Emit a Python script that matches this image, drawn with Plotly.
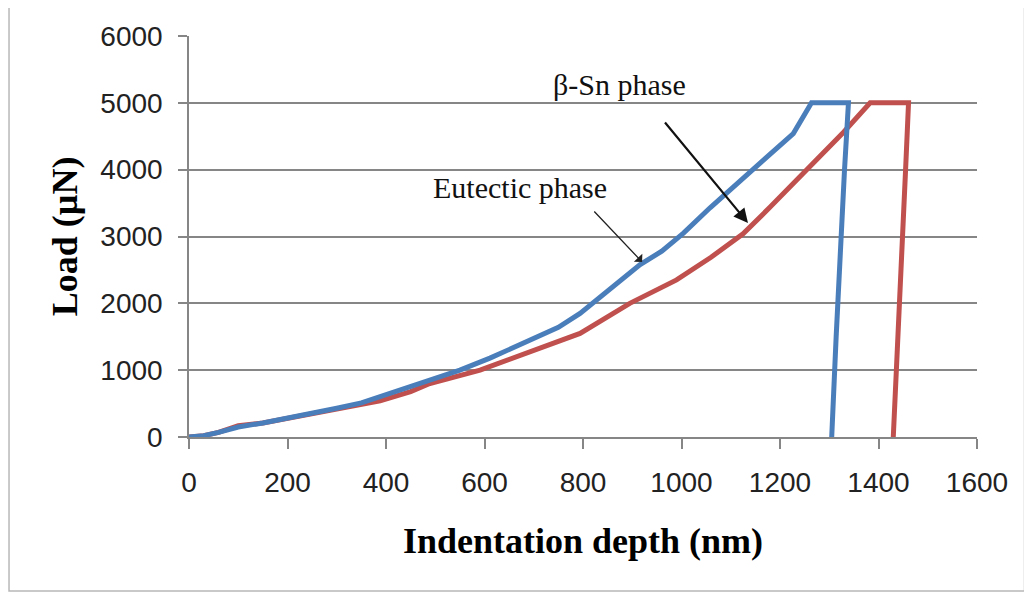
import plotly.graph_objects as go

# indentation depth (nm) and load (uN)
depth_eutectic = [0, 30, 60, 100, 150, 200, 250, 300, 350, 388, 450, 489, 550, 611, 692, 750, 794, 821,
                  875, 916, 960, 1004, 1058, 1146, 1227, 1264, 1339, 1331, 1322, 1314, 1305]
load_eutectic = [0, 20, 70, 150, 210, 280, 360, 430, 510, 600, 750, 850, 1000, 1180, 1450, 1640, 1850, 2010,
                 2320, 2580, 2780, 3050, 3430, 4000, 4540, 5000, 5000, 4000, 2800, 1500, 0]

depth_sn = [0, 30, 60, 100, 150, 200, 250, 300, 350, 388, 450, 489, 591, 692, 794, 895, 950, 990, 1060,
            1125, 1180, 1254, 1329, 1383, 1461, 1455, 1448, 1437, 1430]
load_sn = [0, 20, 70, 170, 210, 280, 350, 420, 480, 540, 680, 800, 1000, 1280, 1550, 2000, 2200, 2350, 2690,
           3040, 3440, 4000, 4560, 5000, 5000, 4000, 2800, 1000, 0]

x_ticks = list(range(0, 1601, 200))
y_ticks = list(range(0, 6001, 1000))

fig = go.Figure()
fig.add_trace(go.Scatter(x = depth_sn, y = load_sn, mode = 'lines',
                         line = dict(color = '#C0504D', width = 5), name = 'beta-Sn'))
fig.add_trace(go.Scatter(x = depth_eutectic, y = load_eutectic, mode = 'lines',
                         line = dict(color = '#4A7EBB', width = 5), name = 'Eutectic'))

serif = 'Liberation Serif'
#labels
fig.add_annotation(x = 875, y = 5267, text = '\u03b2-Sn phase', showarrow = False,
                   font = dict(family = serif, size = 30, color = '#111'))
fig.add_annotation(x = 672, y = 3726, text = 'Eutectic phase', showarrow = False,
                   font = dict(family = serif, size = 30, color = '#111'))
#arrows
fig.add_annotation(x = 1135, y = 3202, ax = 964, ay = 4728, axref = 'x', ayref = 'y', text = '',
                   showarrow = True, arrowhead = 2, arrowsize = 1.3, arrowwidth = 2.2, arrowcolor = '#111')
fig.add_annotation(x = 920, y = 2619, ax = 820, ay = 3397, axref = 'x', ayref = 'y', text = '',
                   showarrow = True, arrowhead = 1, arrowsize = 1.5, arrowwidth = 1.3, arrowcolor = '#222')

#outer chart border
fig.add_shape(type = 'rect', xref = 'paper', yref = 'paper', x0 = -0.2284, x1 = 1.0603, y0 = -0.384, y1 = 1.0748,
              line = dict(color = '#b8b8b8', width = 1.5), layer = 'below')

axis_font = dict(family = 'Liberation Sans', size = 28, color = '#222')
fig.update_xaxes(range = [0, 1600], tickvals = x_ticks, ticks = 'outside', ticklen = 10, tickwidth = 1.5,
                 tickcolor = '#868686', showline = True, linecolor = '#868686', linewidth = 1.5,
                 showgrid = False, zeroline = False, tickfont = axis_font, ticklabelstandoff = 10,
                 title = dict(text = '<b>Indentation depth (nm)</b>', font = dict(family = serif, size = 36, color = '#000'),
                              standoff = 30))
fig.update_yaxes(range = [0, 6000], tickvals = y_ticks, ticks = 'outside', ticklen = 9, tickwidth = 1.5,
                 tickcolor = '#868686', showline = True, linecolor = '#868686', linewidth = 1.5,
                 showgrid = True, gridcolor = '#868686', gridwidth = 1.5, zeroline = False,
                 tickfont = axis_font, ticklabelstandoff = 10,
                 title = dict(text = '<b>Load (\u00b5N)</b>', font = dict(family = serif, size = 36, color = '#000'),
                              standoff = 12))
fig.update_layout(width = 1032, height = 594, showlegend = False,
                  margin = dict(l = 181, r = 63, t = 28, b = 165),
                  plot_bgcolor = 'white', paper_bgcolor = 'white')

fig.write_html('out.html')
